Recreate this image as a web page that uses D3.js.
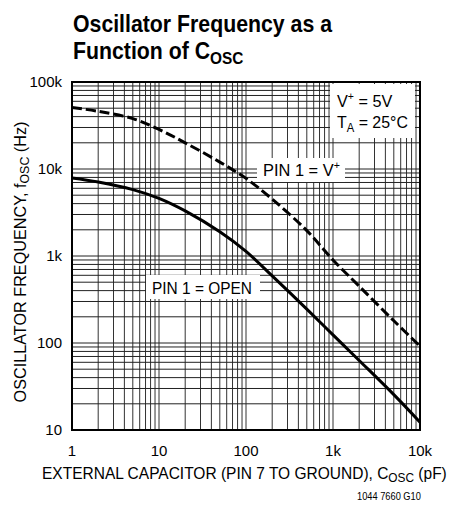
<!DOCTYPE html>
<html>
<head>
<meta charset="utf-8">
<script src="https://cdn.jsdelivr.net/npm/d3@7"></script>
<style>
  body { margin: 0; background: #fff; }
  text { font-family: "Liberation Sans", Arial, sans-serif; fill: #000; }
</style>
</head>
<body>
<script>
// capacitance (pF) and frequency (Hz)
var capValues = [1, 2, 5, 10, 20, 50, 100, 200, 500, 1000, 2000, 5000, 10000];
var freqOpen  = [7900, 7100, 5800, 4600, 3300, 1900, 1130, 590, 245, 124, 63, 25.5, 12.3];
var freqVplus = [51000, 46000, 38000, 28500, 20000, 12000, 7800, 4500, 1960, 900, 450, 180, 92];

var xTicks = [1, 10, 100, 1000, 10000];
var xTickLabels = ["1", "10", "100", "1k", "10k"];
var yTicks = [10, 100, 1000, 10000, 100000];
var yTickLabels = ["10", "100", "1k", "10k", "100k"];

var W = 449, H = 506;
var margin = {top: 82, right: 29, bottom: 76, left: 72};
var width = W - margin.left - margin.right,
    height = H - margin.top - margin.bottom;

var svg = d3.select("body").append("svg")
    .attr("width", W)
    .attr("height", H);

var g = svg.append("g")
    .attr("transform", "translate(" + margin.left + "," + margin.top + ")");

var x = d3.scaleLog().domain([1, 10000]).range([0, width]);
var y = d3.scaleLog().domain([10, 100000]).range([height, 0]);

// minor grid: 1..9 in every decade
var xGrid = [], yGrid = [];
for (var d = 0; d < 4; d++) {
  for (var k = 1; k < 10; k++) {
    xGrid.push(k * Math.pow(10, d));
    yGrid.push(k * Math.pow(10, d + 1));
  }
}

g.selectAll(".vgrid")
    .data(xGrid)
  .enter().append("line")
    .attr("x1", function(d) { return x(d); })
    .attr("x2", function(d) { return x(d); })
    .attr("y1", 0)
    .attr("y2", height)
    .attr("stroke", "#333")
    .attr("stroke-width", 1);

g.selectAll(".hgrid")
    .data(yGrid)
  .enter().append("line")
    .attr("x1", 0)
    .attr("x2", width)
    .attr("y1", function(d) { return y(d); })
    .attr("y2", function(d) { return y(d); })
    .attr("stroke", "#222")
    .attr("stroke-width", 1);

// frame
g.append("rect")
    .attr("width", width)
    .attr("height", height)
    .attr("fill", "none")
    .attr("stroke", "#000")
    .attr("stroke-width", 2);

// label boxes (white, hide the grid)
function labelBox(x0, y0, w, h) {
  svg.append("rect")
      .attr("x", x0).attr("y", y0)
      .attr("width", w).attr("height", h)
      .attr("fill", "#fff");
}
labelBox(330, 84, 85, 54);
labelBox(257, 158, 88, 24);
labelBox(146, 275, 114, 24);

// curves
var line = d3.line()
    .x(function(d) { return x(d[0]); })
    .y(function(d) { return y(d[1]); })
    .curve(d3.curveCatmullRom.alpha(0.5));

g.append("path")
    .datum(d3.zip(capValues, freqOpen))
    .attr("d", line)
    .attr("fill", "none")
    .attr("stroke", "#000")
    .attr("stroke-width", 3);

g.append("path")
    .datum(d3.zip(capValues, freqVplus))
    .attr("d", line)
    .attr("fill", "none")
    .attr("stroke", "#000")
    .attr("stroke-width", 3)
    .attr("stroke-dasharray", "10,4");

// tick labels
g.selectAll(".xtick")
    .data(xTicks)
  .enter().append("text")
    .attr("x", function(d) { return x(d); })
    .attr("y", height + 26)
    .attr("text-anchor", "middle")
    .style("font-size", "15px")
    .text(function(d, i) { return xTickLabels[i]; });

g.selectAll(".ytick")
    .data(yTicks)
  .enter().append("text")
    .attr("x", -10)
    .attr("y", function(d) { return y(d); })
    .attr("dy", "0.36em")
    .attr("text-anchor", "end")
    .style("font-size", "15px")
    .text(function(d, i) { return yTickLabels[i]; });

// condensed look: squeeze a text horizontally to a target width
function label(x0, y0, size, rot) {
  var grp = svg.append("g");
  var t = grp.append("text").style("font-size", size + "px");
  return {grp: grp, t: t, x: x0, y: y0, rot: rot || 0};
}
function fit(l, target, sxFixed) {
  var w = l.t.node().getBBox().width;
  var sx = sxFixed || target / w;
  if (l.rot) l.t.attr("text-anchor", "middle");
  l.grp.attr("transform", "translate(" + l.x + "," + l.y + ")" +
    (l.rot ? " rotate(" + l.rot + ")" : "") + " scale(" + sx + ",1)");
  return sx;
}

// title
var t1 = label(73, 32, 23.5);
t1.t.style("font-weight", "bold").text("Oscillator Frequency as a");
var sxTitle = fit(t1, 260);
var t2 = label(73, 59, 23.5);
t2.t.style("font-weight", "bold");
t2.t.append("tspan").text("Function of C");
t2.t.append("tspan").attr("dy", 5).style("font-size", "17px").text("OSC");
fit(t2, 0, sxTitle);

// axis titles
var xt = label(42, 479, 17);
xt.t.append("tspan").text("EXTERNAL CAPACITOR (PIN 7 TO GROUND), C");
xt.t.append("tspan").attr("dy", 3).style("font-size", "13px").text("OSC");
xt.t.append("tspan").attr("dy", -3).text(" (pF)");
fit(xt, 405);

var yt = label(26, 262, 17, -90);
yt.t.append("tspan").text("OSCILLATOR FREQUENCY, f");
yt.t.append("tspan").attr("dy", 3).style("font-size", "13px").text("OSC");
yt.t.append("tspan").attr("dy", -3).text(" (Hz)");
fit(yt, 281);

// annotations
var a1 = label(337, 107, 17);
a1.t.append("tspan").text("V");
a1.t.append("tspan").attr("dy", -7).style("font-size", "11px").text("+");
a1.t.append("tspan").attr("dy", 7).text(" = 5V");
fit(a1, 56);

var a2 = label(337, 128, 17);
a2.t.append("tspan").text("T");
a2.t.append("tspan").attr("dy", 4).style("font-size", "12px").text("A");
a2.t.append("tspan").attr("dy", -4).text(" = 25°C");
fit(a2, 71);

var a3 = label(263, 176, 17);
a3.t.append("tspan").text("PIN 1 = V");
a3.t.append("tspan").attr("dy", -7).style("font-size", "11px").text("+");
fit(a3, 77);

var a4 = label(152, 294, 17);
a4.t.text("PIN 1 = OPEN");
fit(a4, 100);

var code = label(357, 500, 11);
code.t.text("1044 7660 G10");
fit(code, 64);
</script>
</body>
</html>
